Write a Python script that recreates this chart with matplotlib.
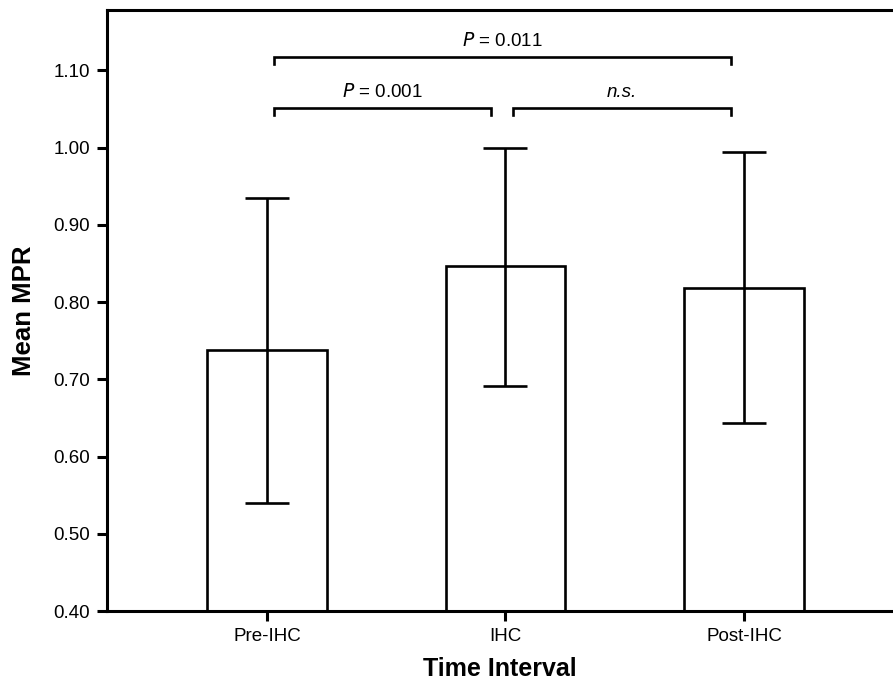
import numpy as np
import matplotlib
matplotlib.use("Agg")
import matplotlib.pyplot as plt

plt.rcParams['font.family'] = ['Liberation Sans', 'DejaVu Sans']

# data
categories = ["Pre-IHC", "IHC", "Post-IHC"]
mean_mpr = [0.738, 0.847, 0.818]
err_low = [0.540, 0.691, 0.643]
err_high = [0.934, 1.000, 0.994]

# significance brackets: (x start, x end, y, label)
brackets = [
    (0.03, 0.94, 1.051, "0.001"),
    (1.03, 1.945, 1.051, "n.s."),
    (0.03, 1.945, 1.117, "0.011"),
]

fig = plt.figure(figsize=(8.93, 6.82), dpi=100)
ax = fig.add_axes([107 / 893, 71 / 682, 1 - 107 / 893, (611 - 10) / 682])

x = np.arange(len(categories))
yerr = np.array([np.array(mean_mpr) - np.array(err_low),
                 np.array(err_high) - np.array(mean_mpr)])

ax.bar(x, mean_mpr, width=0.5, color="white", edgecolor="black",
       linewidth=1.9, zorder=2)
ax.errorbar(x, mean_mpr, yerr=yerr, fmt="none", ecolor="black",
            elinewidth=1.9, capsize=15.5, capthick=1.9, zorder=3)

# brackets
tick_h = 0.009
for x0, x1, y, lab in brackets:
    ax.plot([x0, x0, x1, x1], [y - tick_h, y, y, y - tick_h],
            color="black", lw=1.9, solid_joinstyle="miter", clip_on=False)
    xm = (x0 + x1) / 2
    if lab == "n.s.":
        ax.text(xm, y + 0.009, "n.s.", style="italic", ha="center",
                va="bottom", fontsize=13.5)
    else:
        ax.text(xm, y + 0.009, r"$\it{P}$ = " + lab, ha="center",
                va="bottom", fontsize=13.5)

ax.set_xlim(-0.671, 2.625)
ax.set_ylim(0.4, 1.178)
ax.set_yticks(np.arange(0.4, 1.101, 0.1))
ax.set_yticklabels([f"{v:.2f}" for v in np.arange(0.4, 1.101, 0.1)])
ax.set_xticks(x)
ax.set_xticklabels(categories)

for s in ["left", "top", "bottom"]:
    ax.spines[s].set_linewidth(2.2)
ax.spines["right"].set_visible(False)

ax.tick_params(axis="both", direction="out", length=7, width=2.2,
               labelsize=13.5, pad=5)

ax.set_xlabel("Time Interval", fontsize=18, fontweight="bold", labelpad=9)
ax.set_ylabel("Mean MPR", fontsize=18.5, fontweight="bold", labelpad=13)

fig.savefig("out.png", dpi=100)
